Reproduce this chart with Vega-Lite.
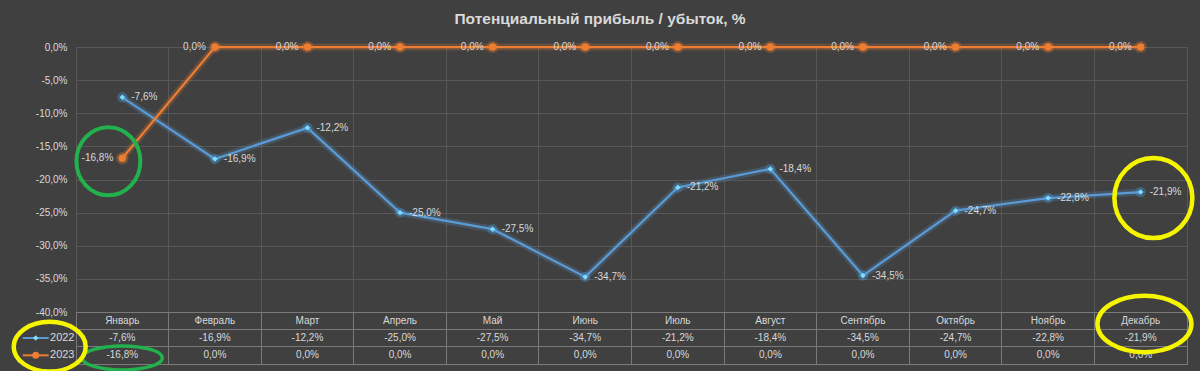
{
  "$schema": "https://vega.github.io/schema/vega-lite/v6.json",
  "background": "#404040",
  "padding": {"left": 4, "top": 12, "right": 5, "bottom": 0},
  "title": {"text": "Потенциальный прибыль / убыток, %", "font": "Liberation Sans", "fontSize": 15.5, "fontWeight": "bold", "color": "#d9d9d9", "anchor": "middle", "offset": 5, "dx": -3},
  "datasets": {
    "m": [
      {"month": "Январь", "2022": -0.076, "2023": -0.168},
      {"month": "Февраль", "2022": -0.169, "2023": 0},
      {"month": "Март", "2022": -0.122, "2023": 0},
      {"month": "Апрель", "2022": -0.25, "2023": 0},
      {"month": "Май", "2022": -0.275, "2023": 0},
      {"month": "Июнь", "2022": -0.347, "2023": 0},
      {"month": "Июль", "2022": -0.212, "2023": 0},
      {"month": "Август", "2022": -0.184, "2023": 0},
      {"month": "Сентябрь", "2022": -0.345, "2023": 0},
      {"month": "Октябрь", "2022": -0.247, "2023": 0},
      {"month": "Ноябрь", "2022": -0.228, "2023": 0},
      {"month": "Декабрь", "2022": -0.219, "2023": 0}
    ]
  },
  "spacing": 0,
  "bounds": "flush",
  "vconcat": [
    {
      "width": 1111,
      "height": 265,
      "view": {"stroke": "#575757"},
      "encoding": {
        "x": {"field": "month", "type": "nominal", "sort": null,
          "scale": {"type": "band", "paddingInner": 0, "paddingOuter": 0, "domain": ["Январь","Февраль","Март","Апрель","Май","Июнь","Июль","Август","Сентябрь","Октябрь","Ноябрь","Декабрь"]},
          "axis": {"title": null, "labels": false, "ticks": false, "domain": false, "grid": true, "bandPosition": 0, "gridColor": "#575757"}},
        "y": {"field": "value", "type": "quantitative",
          "scale": {"domain": [-0.4, 0], "nice": false, "zero": false},
          "axis": {"title": null, "values": [0, -0.05, -0.1, -0.15, -0.2, -0.25, -0.3, -0.35, -0.4], "format": ".1%", "domain": false, "ticks": false, "labelPadding": 9, "gridColor": "#575757"}}
      },
      "layer": [
        {"data": {"name": "m"}, "transform": [{"fold": ["2022", "2023"], "as": ["series", "value"]}],
         "mark": {"type": "line", "strokeWidth": 7, "opacity": 0.22},
         "encoding": {"color": {"field": "series", "type": "nominal", "scale": {"domain": ["2022", "2023"], "range": ["#5b9bd5", "#ed7d31"]}, "legend": null}}},
        {"data": {"name": "m"}, "transform": [{"fold": ["2022", "2023"], "as": ["series", "value"]}],
         "mark": {"type": "line", "strokeWidth": 2.25},
         "encoding": {"color": {"field": "series", "type": "nominal", "legend": null}}},
        {"data": {"name": "m"}, "transform": [{"fold": ["2023"], "as": ["series", "value"]}],
         "mark": {"type": "point", "shape": "circle", "filled": true, "size": 150, "color": "#ed7d31", "opacity": 0.3}},
        {"data": {"name": "m"}, "transform": [{"fold": ["2023"], "as": ["series", "value"]}],
         "mark": {"type": "point", "shape": "circle", "filled": true, "size": 55, "color": "#ed7d31", "opacity": 1}},
        {"data": {"name": "m"}, "transform": [{"fold": ["2022"], "as": ["series", "value"]}],
         "mark": {"type": "point", "shape": "circle", "filled": true, "size": 110, "color": "#4aa8f0", "opacity": 0.3}},
        {"data": {"name": "m"}, "transform": [{"fold": ["2022"], "as": ["series", "value"]}],
         "mark": {"type": "point", "shape": "diamond", "filled": true, "size": 30, "color": "#7fdcff", "opacity": 1}},
        {"data": {"name": "m"}, "transform": [{"fold": ["2022"], "as": ["series", "value"]}],
         "mark": {"type": "text", "align": "left", "baseline": "middle", "dx": 9, "fontSize": 10, "color": "#d9d9d9"},
         "encoding": {"text": {"field": "value", "type": "quantitative", "format": ".1%"}}},
        {"data": {"name": "m"}, "transform": [{"fold": ["2023"], "as": ["series", "value"]}],
         "mark": {"type": "text", "align": "right", "baseline": "middle", "dx": -9, "fontSize": 10, "color": "#d9d9d9"},
         "encoding": {"text": {"field": "value", "type": "quantitative", "format": ".1%"}}},
        {"data": {"values": [{"month": "Декабрь", "value": -0.228}]},
         "mark": {"type": "point", "shape": "M -0.975 0 A 0.975 1 0 1 0 0.975 0 A 0.975 1 0 1 0 -0.975 0", "size": 6400, "filled": false, "stroke": "#f5f500", "strokeWidth": 4.5, "opacity": 1},
         "encoding": {"x": {"field": "month", "type": "nominal", "bandPosition": 0.637}}},
        {"data": {"values": [{"month": "Январь", "value": -0.1725}]},
         "mark": {"type": "point", "shape": "M -0.94 0 A 0.94 1 0 1 0 0.94 0 A 0.94 1 0 1 0 -0.94 0", "size": 4624, "filled": false, "stroke": "#22b14c", "strokeWidth": 4, "opacity": 1},
         "encoding": {"x": {"field": "month", "type": "nominal", "bandPosition": 0.35}}}
      ]
    },
    {
      "width": 1111,
      "height": 52,
      "view": {"stroke": "#7a7a7a"},
      "encoding": {
        "x": {"field": "month", "type": "nominal", "sort": null,
          "scale": {"type": "band", "paddingInner": 0, "paddingOuter": 0, "domain": ["Январь","Февраль","Март","Апрель","Май","Июнь","Июль","Август","Сентябрь","Октябрь","Ноябрь","Декабрь"]},
          "axis": {"title": null, "labels": false, "ticks": false, "domain": false, "grid": true, "bandPosition": 0, "gridColor": "#7a7a7a"}}
      },
      "layer": [
        {"data": {"name": "m"},
         "mark": {"type": "text", "fontSize": 10, "color": "#d9d9d9", "baseline": "middle"},
         "encoding": {
           "y": {"datum": "h", "type": "nominal",
             "scale": {"type": "band", "domain": ["h", "2022", "2023"], "paddingInner": 0, "paddingOuter": 0},
             "axis": {"title": null, "labelExpr": "datum.value == 'h' ? '' : datum.value", "domain": false, "ticks": false, "grid": true, "bandPosition": 0, "gridColor": "#7a7a7a", "labelPadding": 2, "labelFontSize": 11}},
           "text": {"field": "month"}}},
        {"data": {"name": "m"},
         "mark": {"type": "text", "fontSize": 10, "color": "#d9d9d9", "baseline": "middle"},
         "encoding": {"y": {"datum": "2022", "type": "nominal"}, "text": {"field": "2022", "type": "quantitative", "format": ".1%"}}},
        {"data": {"name": "m"},
         "mark": {"type": "text", "fontSize": 10, "color": "#d9d9d9", "baseline": "middle"},
         "encoding": {"y": {"datum": "2023", "type": "nominal"}, "text": {"field": "2023", "type": "quantitative", "format": ".1%"}}},
        {"data": {"values": [{"month": "Январь", "row": "2022"}, {"month": "Январь", "row": "2023"}]},
         "mark": {"type": "point", "shape": "M -1 0 L 1 0", "size": 676, "filled": false, "strokeWidth": 2, "opacity": 1},
         "encoding": {"x": {"field": "month", "type": "nominal", "bandPosition": -0.435}, "y": {"field": "row", "type": "nominal"},
           "stroke": {"field": "row", "type": "nominal", "scale": {"domain": ["2022", "2023"], "range": ["#5b9bd5", "#ed7d31"]}, "legend": null}}},
        {"data": {"values": [{"month": "Январь", "row": "2023"}]},
         "mark": {"type": "point", "shape": "circle", "size": 50, "filled": true, "color": "#ed7d31", "opacity": 1},
         "encoding": {"x": {"field": "month", "type": "nominal", "bandPosition": -0.435}, "y": {"field": "row", "type": "nominal"}}},
        {"data": {"values": [{"month": "Январь", "row": "2022"}]},
         "mark": {"type": "point", "shape": "diamond", "size": 30, "filled": true, "color": "#7fdcff", "opacity": 1},
         "encoding": {"x": {"field": "month", "type": "nominal", "bandPosition": -0.435}, "y": {"field": "row", "type": "nominal"}}},
        {"data": {"values": [{"month": "Январь", "row": "2023"}]},
         "mark": {"type": "point", "shape": "M -1 0 A 1 0.3 0 1 0 1 0 A 1 0.3 0 1 0 -1 0", "size": 6400, "filled": false, "stroke": "#22b14c", "strokeWidth": 3.5, "opacity": 1},
         "encoding": {"x": {"field": "month", "type": "nominal", "bandPosition": 0.5}, "y": {"field": "row", "type": "nominal", "bandPosition": 0.65}}},
        {"data": {"values": [{"month": "Декабрь", "row": "h"}]},
         "mark": {"type": "point", "shape": "M -1 0 A 1 0.6 0 1 0 1 0 A 1 0.6 0 1 0 -1 0", "size": 8836, "filled": false, "stroke": "#f5f500", "strokeWidth": 4.5, "opacity": 1},
         "encoding": {"x": {"field": "month", "type": "nominal", "bandPosition": 0.54}, "y": {"field": "row", "type": "nominal", "bandPosition": 0.69}}},
        {"data": {"values": [{"month": "Январь", "row": "2023"}]},
         "mark": {"type": "point", "shape": "M -1 0 A 1 0.69 0 1 0 1 0 A 1 0.69 0 1 0 -1 0", "size": 5184, "filled": false, "stroke": "#f5f500", "strokeWidth": 4.5, "opacity": 1},
         "encoding": {"x": {"field": "month", "type": "nominal", "bandPosition": -0.284}, "y": {"field": "row", "type": "nominal", "bandPosition": 0}}}
      ]
    }
  ],
  "config": {
    "font": "Liberation Sans",
    "axis": {"labelColor": "#d9d9d9", "labelFontSize": 10, "labelFont": "Liberation Sans"},
    "locale": {"number": {"decimal": ",", "thousands": " ", "grouping": [3], "currency": ["", ""], "minus": "-", "percent": "%"}}
  }
}
